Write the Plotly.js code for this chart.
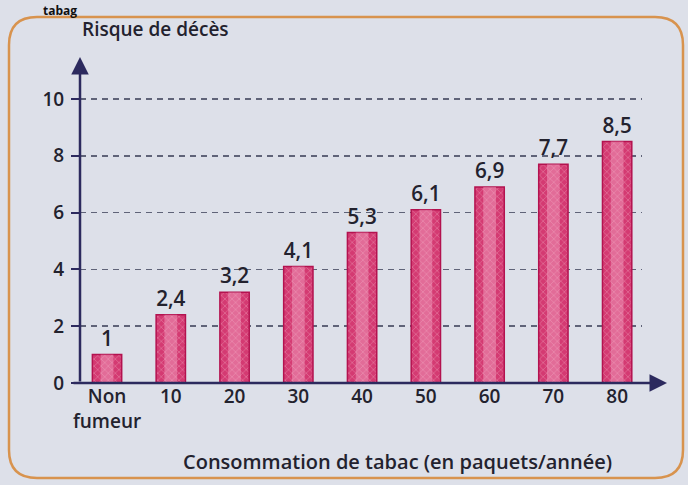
<!DOCTYPE html>
<html>
<head>
<meta charset="utf-8">
<script src="https://cdn.plot.ly/plotly-3.0.1.min.js"></script>
<style>html,body{margin:0;padding:0;background:#dde0e9;}#chart{width:688px;height:485px;}</style>
</head>
<body>
<div id="chart"></div>
<script>
var categories = ["Non<br>fumeur", "10", "20", "30", "40", "50", "60", "70", "80"];
var risk = [1, 2.4, 3.2, 4.1, 5.3, 6.1, 6.9, 7.7, 8.5];
var yTicks = [0, 2, 4, 6, 8, 10];
var yTitle = "Risque de décès";
var xTitle = "Consommation de tabac (en paquets/année)";
var heading = "tabag";

var L = 80, R = 642, T = 55, B = 383, W = 688, H = 485;
function px(x){ return (x - L) / (R - L); }
function py(y){ return (B - y) / (B - T); }

var labels = risk.map(function(v){ return String(v).replace('.', ','); });
var font = "'Open Sans', 'Noto Sans', sans-serif";
var ink = "#23222e";
var navy = "#2c2a5e";
var xIdx = categories.map(function(c, i){ return i; });

var x0 = px(9), x1 = px(683), y1 = py(17), y0 = py(478);
var rx = 28 / (R - L), ry = 28 / (B - T);
var framePath = 'M ' + (x0 + rx) + ',' + y1 + ' L ' + (x1 - rx) + ',' + y1 +
  ' Q ' + x1 + ',' + y1 + ' ' + x1 + ',' + (y1 - ry) +
  ' L ' + x1 + ',' + (y0 + ry) + ' Q ' + x1 + ',' + y0 + ' ' + (x1 - rx) + ',' + y0 +
  ' L ' + (x0 + rx) + ',' + y0 + ' Q ' + x0 + ',' + y0 + ' ' + x0 + ',' + (y0 + ry) +
  ' L ' + x0 + ',' + (y1 - ry) + ' Q ' + x0 + ',' + y1 + ' ' + (x0 + rx) + ',' + y1 + ' Z';

var bars = {
  type: 'bar',
  x: xIdx,
  y: risk,
  width: 0.46,
  text: labels,
  textposition: 'outside',
  textfont: {family: font, size: 21, color: ink, weight: 600},
  cliponaxis: false,
  marker: {
    color: '#d43a72',
    line: {color: '#b3124f', width: 1.5},
    pattern: {shape: 'x', fgcolor: '#e784a8', bgcolor: '#d43a72', size: 5, solidity: 0.2, fillmode: 'replace'}
  },
  hoverinfo: 'none'
};
var highlight = {
  type: 'bar',
  x: xIdx,
  y: risk,
  width: 0.2,
  marker: {color: 'rgba(245,170,200,0.45)', line: {width: 0}},
  hoverinfo: 'none',
  textposition: 'none'
};

var layout = {
  width: W, height: H,
  margin: {l: L, r: W - R, t: T, b: H - B, pad: 0},
  paper_bgcolor: '#dde0e9',
  plot_bgcolor: 'rgba(0,0,0,0)',
  showlegend: false,
  barmode: 'overlay',
  separators: ', ',
  font: {family: font, color: ink, size: 19},
  xaxis: {
    range: [-0.424, 8.39],
    tickmode: 'array',
    tickvals: xIdx,
    ticktext: categories,
    ticks: '',
    showgrid: false,
    zeroline: false,
    showline: false,
    tickfont: {family: font, size: 19, color: ink, weight: 600},
    fixedrange: true
  },
  yaxis: {
    range: [0, 11.55],
    tickmode: 'array',
    tickvals: yTicks,
    ticktext: yTicks.map(String),
    ticks: 'outside',
    ticklen: 8,
    tickwidth: 2,
    tickcolor: navy,
    ticklabelstandoff: 3,
    showgrid: true,
    gridcolor: '#5f6378',
    gridwidth: 1.5,
    griddash: '6px,5px',
    zeroline: false,
    showline: false,
    tickfont: {family: font, size: 19, color: ink, weight: 600},
    fixedrange: true
  },
  shapes: [
    {type: 'path', xref: 'paper', yref: 'paper', path: framePath,
     line: {color: '#d8934e', width: 2.5}, fillcolor: 'rgba(0,0,0,0)', layer: 'below'}
  ],
  annotations: [
    {xref: 'paper', yref: 'paper', x: 0, y: py(57), ax: 0, ay: (B - 57), axref: 'pixel', ayref: 'pixel',
     showarrow: true, arrowhead: 2, arrowsize: 1.4, arrowwidth: 2.5, arrowcolor: navy, text: '', standoff: 0},
    {xref: 'paper', yref: 'paper', x: px(667), y: 0, ax: -(667 - 72), ay: 0, axref: 'pixel', ayref: 'pixel',
     showarrow: true, arrowhead: 2, arrowsize: 1.4, arrowwidth: 2.5, arrowcolor: navy, text: '', standoff: 0},
    {xref: 'paper', yref: 'paper', x: 0, y: 1, xanchor: 'left', yanchor: 'middle', yshift: 26, xshift: 0,
     text: yTitle, showarrow: false, font: {family: font, size: 19, color: ink, weight: 600}},
    {xref: 'paper', yref: 'paper', x: px(397), y: py(462), xanchor: 'center', yanchor: 'middle',
     text: xTitle, showarrow: false, font: {family: font, size: 20, color: ink, weight: 600}},
    {xref: 'paper', yref: 'paper', x: px(42), y: py(1), xanchor: 'left', yanchor: 'top',
     text: heading, showarrow: false, borderpad: 0, font: {family: font, size: 12, color: '#111', weight: 700}}
  ]
};

Plotly.newPlot('chart', [bars, highlight], layout, {displayModeBar: false, staticPlot: true});
</script>
</body>
</html>
